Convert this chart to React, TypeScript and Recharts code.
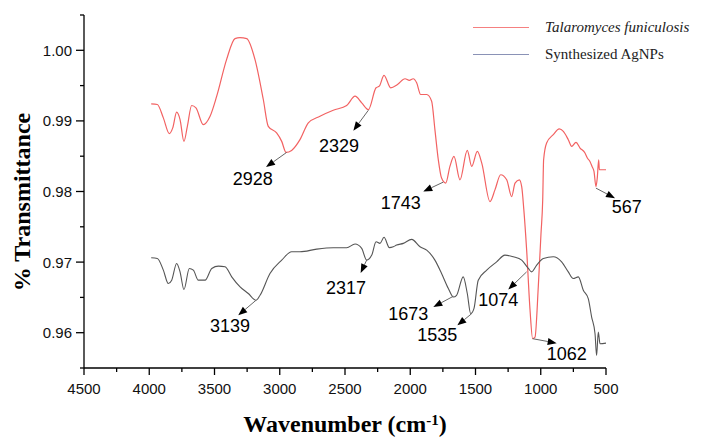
import React from 'react';
import { LineChart, Line, XAxis, YAxis, ReferenceLine, ReferenceDot } from 'recharts';

// Talaromyces funiculosis spectrum
const tfWavenumbers = [3985, 3938, 3892, 3846, 3820, 3790, 3764, 3734, 3708, 3675, 3642, 3586, 3534, 3483, 3407, 3343, 3305, 3253, 3190, 3126, 3088, 3024, 2985, 2952, 2909, 2845, 2781, 2692, 2590, 2487, 2423, 2372, 2321, 2262, 2237, 2201, 2150, 2098, 2040, 2007, 1977, 1951, 1920, 1874, 1836, 1811, 1785, 1760, 1728, 1696, 1665, 1619, 1563, 1529, 1486, 1452, 1389, 1351, 1307, 1261, 1223, 1197, 1164, 1146, 1130, 1108, 1082, 1062, 1044, 1019, 998, 985, 978, 955, 904, 858, 827, 789, 763, 730, 699, 661, 643, 623, 607, 592, 577, 567, 556, 551, 533, 500];
const tfValues = [0.99242, 0.99232, 0.99043, 0.9882, 0.98901, 0.99123, 0.99019, 0.9871, 0.98923, 0.99218, 0.99185, 0.98947, 0.99066, 0.9935, 0.99872, 1.00166, 1.0018, 1.00166, 0.99872, 0.99303, 0.98923, 0.98829, 0.9871, 0.98554, 0.98582, 0.98734, 0.98972, 0.99066, 0.99151, 0.99218, 0.9935, 0.99256, 0.99161, 0.99469, 0.99492, 0.99645, 0.99469, 0.99516, 0.99597, 0.99573, 0.99597, 0.9954, 0.99374, 0.99374, 0.99279, 0.98877, 0.9845, 0.9819, 0.98119, 0.98355, 0.98497, 0.98166, 0.98582, 0.98355, 0.98568, 0.98403, 0.97857, 0.98023, 0.98237, 0.98166, 0.97928, 0.98119, 0.98166, 0.9807, 0.9775, 0.9717, 0.96317, 0.95915, 0.95937, 0.96648, 0.97408, 0.97881, 0.9845, 0.98687, 0.98805, 0.98886, 0.98852, 0.98734, 0.98639, 0.98696, 0.98616, 0.98545, 0.98474, 0.98426, 0.98355, 0.98284, 0.9807, 0.9819, 0.9845, 0.98308, 0.98308, 0.98308];

// Synthesized AgNPs spectrum
const agWavenumbers = [3985, 3938, 3892, 3854, 3828, 3790, 3764, 3734, 3693, 3662, 3624, 3572, 3521, 3470, 3419, 3368, 3304, 3241, 3182, 3151, 3075, 2985, 2909, 2845, 2717, 2590, 2487, 2423, 2372, 2334, 2295, 2262, 2232, 2201, 2160, 2130, 2104, 2053, 1989, 1925, 1874, 1811, 1760, 1708, 1670, 1645, 1594, 1563, 1537, 1512, 1479, 1414, 1338, 1274, 1210, 1146, 1095, 1070, 1031, 980, 904, 840, 789, 751, 712, 674, 636, 610, 584, 572, 559, 546, 500];
const agValues = [0.97061, 0.97052, 0.96886, 0.96697, 0.96744, 0.96981, 0.96862, 0.96611, 0.9691, 0.96886, 0.96744, 0.96744, 0.9691, 0.96943, 0.96933, 0.96791, 0.96648, 0.96555, 0.96459, 0.9653, 0.96839, 0.97028, 0.97146, 0.97146, 0.97184, 0.97203, 0.97203, 0.97256, 0.97194, 0.97028, 0.97099, 0.97288, 0.97265, 0.97351, 0.97205, 0.97217, 0.97241, 0.97265, 0.97322, 0.97217, 0.9717, 0.97028, 0.96839, 0.96626, 0.96506, 0.9653, 0.96791, 0.96555, 0.9627, 0.96341, 0.96744, 0.96886, 0.97004, 0.97099, 0.97075, 0.97028, 0.9691, 0.96862, 0.96957, 0.97052, 0.97075, 0.97004, 0.96862, 0.96768, 0.96791, 0.96601, 0.96483, 0.96222, 0.95986, 0.95677, 0.96009, 0.95844, 0.95852];

// Peak annotations: label, point on curve, arrow tip, label anchor (wavenumber, transmittance)
const peakLabels = ['2928', '2329', '1743', '567', '3139', '2317', '1673', '1535', '1074', '1062'];
const peakFrom = [[2947, 0.98554], [2321, 0.99151], [1747, 0.98133], [577, 0.98048], [3182, 0.96459], [2334, 0.97028], [1670, 0.96516], [1529, 0.9627], [1108, 0.96862], [1062, 0.95915]];
const peakTip = [[3105, 0.98346], [2436, 0.98862], [1900, 0.97999], [431, 0.97905], [3318, 0.96246], [2380, 0.96847], [1823, 0.96364], [1639, 0.96104], [1249, 0.96611], [878, 0.95852]];
const peakText = [[3207, 0.98175], [2546, 0.98649], [2073, 0.97843], [341, 0.97786], [3381, 0.9609], [2492, 0.96634], [2015, 0.9627], [1793, 0.95962], [1325, 0.96469], [801, 0.95701]];

const xTicks = [4500, 4250, 4000, 3750, 3500, 3250, 3000, 2750, 2500, 2250, 2000, 1750, 1500, 1250, 1000, 750, 500];
const yTicks = [0.955, 0.96, 0.965, 0.97, 0.975, 0.98, 0.985, 0.99, 0.995, 1.0, 1.005];

const tfData = tfWavenumbers.map((wn, i) => ({ wn, t: tfValues[i] }));
const agData = agWavenumbers.map((wn, i) => ({ wn, t: agValues[i] }));

const SANS = '"Liberation Sans", Arial, sans-serif';
const SERIF = '"Liberation Serif", "Times New Roman", serif';
const RED = '#f26262';
const DARK = '#555555';

const XTick = (props: any) => {
  const { x, y, payload } = props;
  const major = Math.round(payload.value) % 500 === 0;
  return (
    <g>
      <line x1={x} y1={y} x2={x} y2={y + (major ? 7 : 4)} stroke="#000" strokeWidth={1.3} />
      {major && (
        <text x={x} y={y + 20} textAnchor="middle" dominantBaseline="central" fontSize={15} fontFamily={SANS} fill="#111">
          {payload.value}
        </text>
      )}
    </g>
  );
};

const YTick = (props: any) => {
  const { x, y, payload } = props;
  const major = Math.round(payload.value * 1000) % 10 === 0;
  return (
    <g>
      <line x1={x - (major ? 8 : 4)} y1={y} x2={x} y2={y} stroke="#000" strokeWidth={1.3} />
      {major && (
        <text x={x - 12} y={y} textAnchor="end" dominantBaseline="central" fontSize={15} fontFamily={SANS} fill="#111">
          {payload.value.toFixed(2)}
        </text>
      )}
    </g>
  );
};

const ArrowShape = (props: any) => {
  const { x1, y1, x2, y2 } = props;
  const dx = x2 - x1;
  const dy = y2 - y1;
  const len = Math.hypot(dx, dy) || 1;
  const ux = dx / len;
  const uy = dy / len;
  const hl = 9;
  const hw = 3.5;
  const bx = x2 - ux * hl;
  const by = y2 - uy * hl;
  const pts = `${x2},${y2} ${bx - uy * hw},${by + ux * hw} ${bx + uy * hw},${by - ux * hw}`;
  return (
    <g>
      <line x1={x1} y1={y1} x2={bx} y2={by} stroke="#666" strokeWidth={1} />
      <polygon points={pts} fill="#000" />
    </g>
  );
};

const makeLabelShape = (text: string) => (props: any) => (
  <text x={props.cx} y={props.cy} textAnchor="middle" dominantBaseline="central" fontSize={18} fontFamily={SANS} fill="#000">
    {text}
  </text>
);

export default function App() {
  return (
    <div style={{ position: 'absolute', left: 0, top: 0, width: 703, height: 446, background: '#fff' }}>
      <LineChart width={703} height={446} margin={{ top: 15, right: 97, bottom: 48, left: 24 }}>
        <XAxis
          type="number"
          dataKey="wn"
          domain={[500, 4500]}
          reversed
          ticks={xTicks}
          interval={0}
          tick={<XTick />}
          tickLine={false}
          tickSize={0}
          tickMargin={0}
          height={30}
          axisLine={{ stroke: '#000', strokeWidth: 1.3 }}
          allowDataOverflow
        />
        <YAxis
          type="number"
          dataKey="t"
          domain={[0.955, 1.005]}
          ticks={yTicks}
          interval={0}
          tick={<YTick />}
          tickLine={false}
          tickSize={0}
          tickMargin={0}
          width={60}
          axisLine={{ stroke: '#000', strokeWidth: 1.3 }}
          allowDataOverflow
        />
        <Line data={tfData} dataKey="t" type="monotone" stroke={RED} strokeWidth={1.2} dot={false} isAnimationActive={false} />
        <Line data={agData} dataKey="t" type="monotone" stroke={DARK} strokeWidth={1.1} dot={false} isAnimationActive={false} />
        {peakLabels.map((lbl, i) => (
          <ReferenceLine
            key={'a' + lbl}
            segment={[
              { x: peakFrom[i][0], y: peakFrom[i][1] },
              { x: peakTip[i][0], y: peakTip[i][1] },
            ]}
            ifOverflow="visible"
            shape={ArrowShape}
          />
        ))}
        {peakLabels.map((lbl, i) => (
          <ReferenceDot
            key={'l' + lbl}
            x={peakText[i][0]}
            y={peakText[i][1]}
            r={0}
            ifOverflow="visible"
            shape={makeLabelShape(lbl)}
          />
        ))}
      </LineChart>
      {/* Legend */}
      <div style={{ position: 'absolute', left: 473, top: 27, width: 56, height: 0, borderTop: '1.2px solid #f58080' }} />
      <div style={{ position: 'absolute', left: 545, top: 17, lineHeight: '20px', fontFamily: SERIF, fontSize: 15, fontStyle: 'italic', color: '#222', whiteSpace: 'nowrap' }}>
        Talaromyces funiculosis
      </div>
      <div style={{ position: 'absolute', left: 473, top: 53.5, width: 56, height: 0, borderTop: '1.2px solid #8a92b6' }} />
      <div style={{ position: 'absolute', left: 545, top: 43.5, lineHeight: '20px', fontFamily: SERIF, fontSize: 15, color: '#222', whiteSpace: 'nowrap' }}>
        Synthesized AgNPs
      </div>
      {/* Axis titles */}
      <div
        style={{
          position: 'absolute',
          left: 21.5,
          top: 201.5,
          transform: 'translate(-50%, -50%) rotate(-90deg)',
          fontFamily: SERIF,
          fontWeight: 'bold',
          fontSize: 24,
          lineHeight: '28px',
          whiteSpace: 'nowrap',
          color: '#000',
        }}
      >
        % Transmittance
      </div>
      <div
        style={{
          position: 'absolute',
          left: 345,
          top: 424,
          transform: 'translate(-50%, -50%)',
          fontFamily: SERIF,
          fontWeight: 'bold',
          fontSize: 24,
          lineHeight: '28px',
          whiteSpace: 'nowrap',
          color: '#000',
        }}
      >
        Wavenumber (cm<sup style={{ fontSize: 15, verticalAlign: 'top', position: 'relative', top: -4 }}>-1</sup>)
      </div>
    </div>
  );
}
